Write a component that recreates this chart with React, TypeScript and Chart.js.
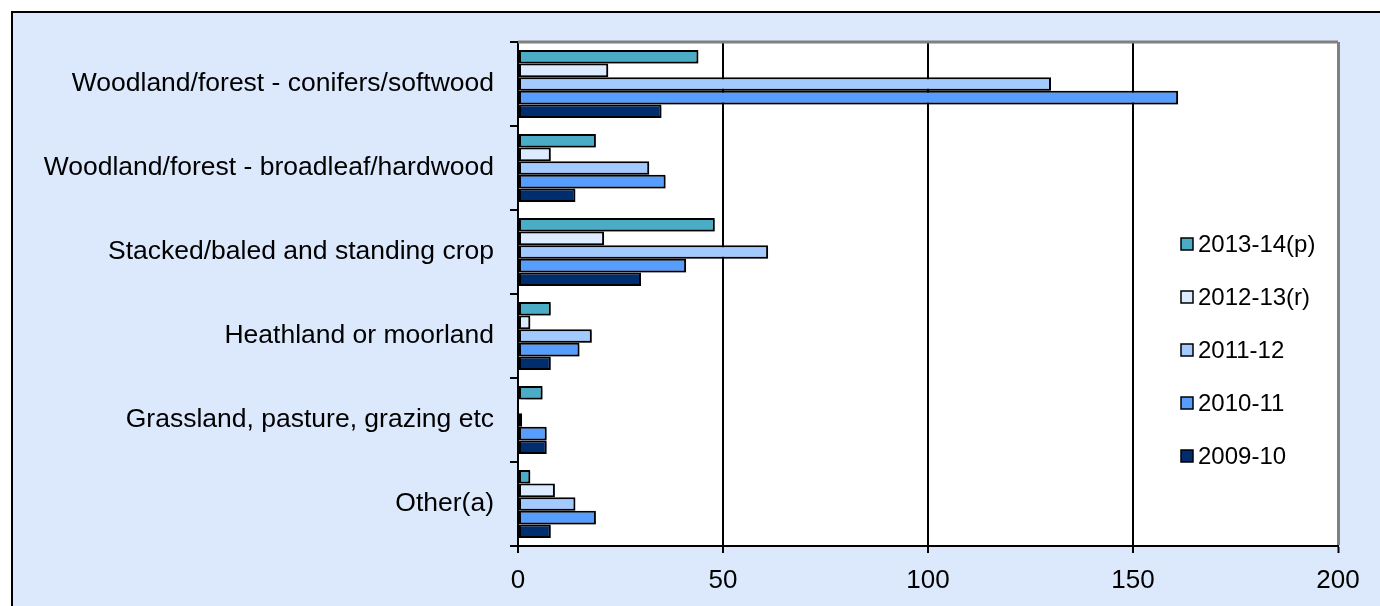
import React, { useEffect, useRef } from "react";
import { Chart, registerables } from "chart.js";

Chart.register(...registerables);

const categories = [
  "Woodland/forest - conifers/softwood",
  "Woodland/forest - broadleaf/hardwood",
  "Stacked/baled and standing crop",
  "Heathland or moorland",
  "Grassland, pasture, grazing etc",
  "Other(a)",
];

const seriesLabels = ["2013-14(p)", "2012-13(r)", "2011-12", "2010-11", "2009-10"];
const seriesColors = ["#4BACC6", "#DCEBFF", "#A3CAFF", "#559EFF", "#002D6E"];

const values2013 = [44, 19, 48, 8, 6, 3];
const values2012 = [22, 8, 21, 3, 0, 9];
const values2011 = [130, 32, 61, 18, 1, 14];
const values2010 = [161, 36, 41, 15, 7, 19];
const values2009 = [35, 14, 30, 8, 7, 8];

const seriesValues = [values2013, values2012, values2011, values2010, values2009];

const xTicks = [0, 50, 100, 150, 200];

const FONT = "'Liberation Sans', Arial, sans-serif";

const framePlugin = {
  id: "frame",
  beforeDraw(chart: any) {
    const { ctx, width, height, chartArea } = chart;
    ctx.save();
    ctx.fillStyle = "#ffffff";
    ctx.fillRect(0, 0, width, height);
    ctx.fillStyle = "#DCE9FC";
    ctx.fillRect(12, 12, width, height);
    ctx.strokeStyle = "#000000";
    ctx.lineWidth = 2;
    ctx.beginPath();
    ctx.moveTo(12, height + 5);
    ctx.lineTo(12, 12);
    ctx.lineTo(width + 5, 12);
    ctx.stroke();
    ctx.fillStyle = "#ffffff";
    ctx.fillRect(chartArea.left, chartArea.top, chartArea.right - chartArea.left, chartArea.bottom - chartArea.top);
    ctx.restore();
  },
  beforeDatasetsDraw(chart: any) {
    const ctx = chart.ctx;
    ctx.save();
    ctx.shadowColor = "rgba(0,0,0,0.3)";
    ctx.shadowOffsetX = 2;
    ctx.shadowOffsetY = 2;
    ctx.shadowBlur = 1;
  },
  afterDatasetsDraw(chart: any) {
    chart.ctx.restore();
  },
  afterDraw(chart: any) {
    const { ctx, chartArea } = chart;
    ctx.save();
    ctx.strokeStyle = "#808080";
    ctx.lineWidth = 3;
    ctx.beginPath();
    ctx.moveTo(chartArea.left, chartArea.top);
    ctx.lineTo(chartArea.right, chartArea.top);
    ctx.stroke();
    // legend
    const ds = chart.data.datasets;
    ctx.font = `24px ${FONT}`;
    ctx.textBaseline = "middle";
    ctx.textAlign = "left";
    for (let i = 0; i < ds.length; i++) {
      const cy = 244 + i * 53;
      ctx.fillStyle = ds[i].backgroundColor;
      ctx.fillRect(1181, cy - 6, 12, 12);
      ctx.strokeStyle = "#000000";
      ctx.lineWidth = 1.5;
      ctx.strokeRect(1181, cy - 6, 12, 12);
      ctx.fillStyle = "#000000";
      ctx.fillText(ds[i].label, 1198, cy + 1);
    }
    ctx.restore();
  },
};

export default function App() {
  const ref = useRef<HTMLCanvasElement>(null);
  useEffect(() => {
    document.body.style.margin = "0";
    const chart = new Chart(ref.current as HTMLCanvasElement, {
      type: "bar",
      data: {
        labels: categories,
        datasets: seriesLabels.map((label, i) => ({
          label,
          data: seriesValues[i],
          backgroundColor: seriesColors[i],
          borderColor: "#000000",
          borderWidth: 2,
          borderSkipped: false,
          categoryPercentage: 0.81,
          barPercentage: 1.0,
        })),
      },
      options: {
        indexAxis: "y",
        animation: false,
        responsive: false,
        devicePixelRatio: 1,
        layout: { padding: { left: 0, top: 42, right: 42, bottom: 0 } },
        plugins: { legend: { display: false }, tooltip: { enabled: false } },
        scales: {
          x: {
            type: "linear",
            min: 0,
            max: 200,
            afterBuildTicks(scale: any) {
              scale.ticks = xTicks.map((v) => ({ value: v }));
            },
            afterFit(scale: any) {
              scale.height = 60;
            },
            ticks: {
              color: "#000000",
              font: { family: FONT, size: 26 },
              padding: 12,
              maxRotation: 0,
            },
            grid: {
              color: (c: any) => (c.tick && c.tick.value === 200 ? "#808080" : "#000000"),
              lineWidth: (c: any) => (c.tick && c.tick.value === 200 ? 3 : 2),
              tickColor: "#000000",
              tickLength: 7,
              tickWidth: 2,
            },
            border: { color: "#000000", width: 2 },
          },
          y: {
            type: "category",
            afterFit(scale: any) {
              scale.width = 518;
            },
            ticks: {
              color: "#000000",
              font: { family: FONT, size: 26.5 },
              padding: 16,
            },
            grid: {
              offset: true,
              drawOnChartArea: false,
              color: "#000000",
              tickLength: 8,
              lineWidth: 2,
            },
            border: { color: "#000000", width: 2 },
          },
        },
      },
      plugins: [framePlugin],
    } as any);
    return () => chart.destroy();
  }, []);
  return (
    <div style={{ position: "fixed", left: 0, top: 0, width: 1380, height: 606 }}>
      <canvas ref={ref} width={1380} height={606} style={{ width: 1380, height: 606, display: "block" }} />
    </div>
  );
}
